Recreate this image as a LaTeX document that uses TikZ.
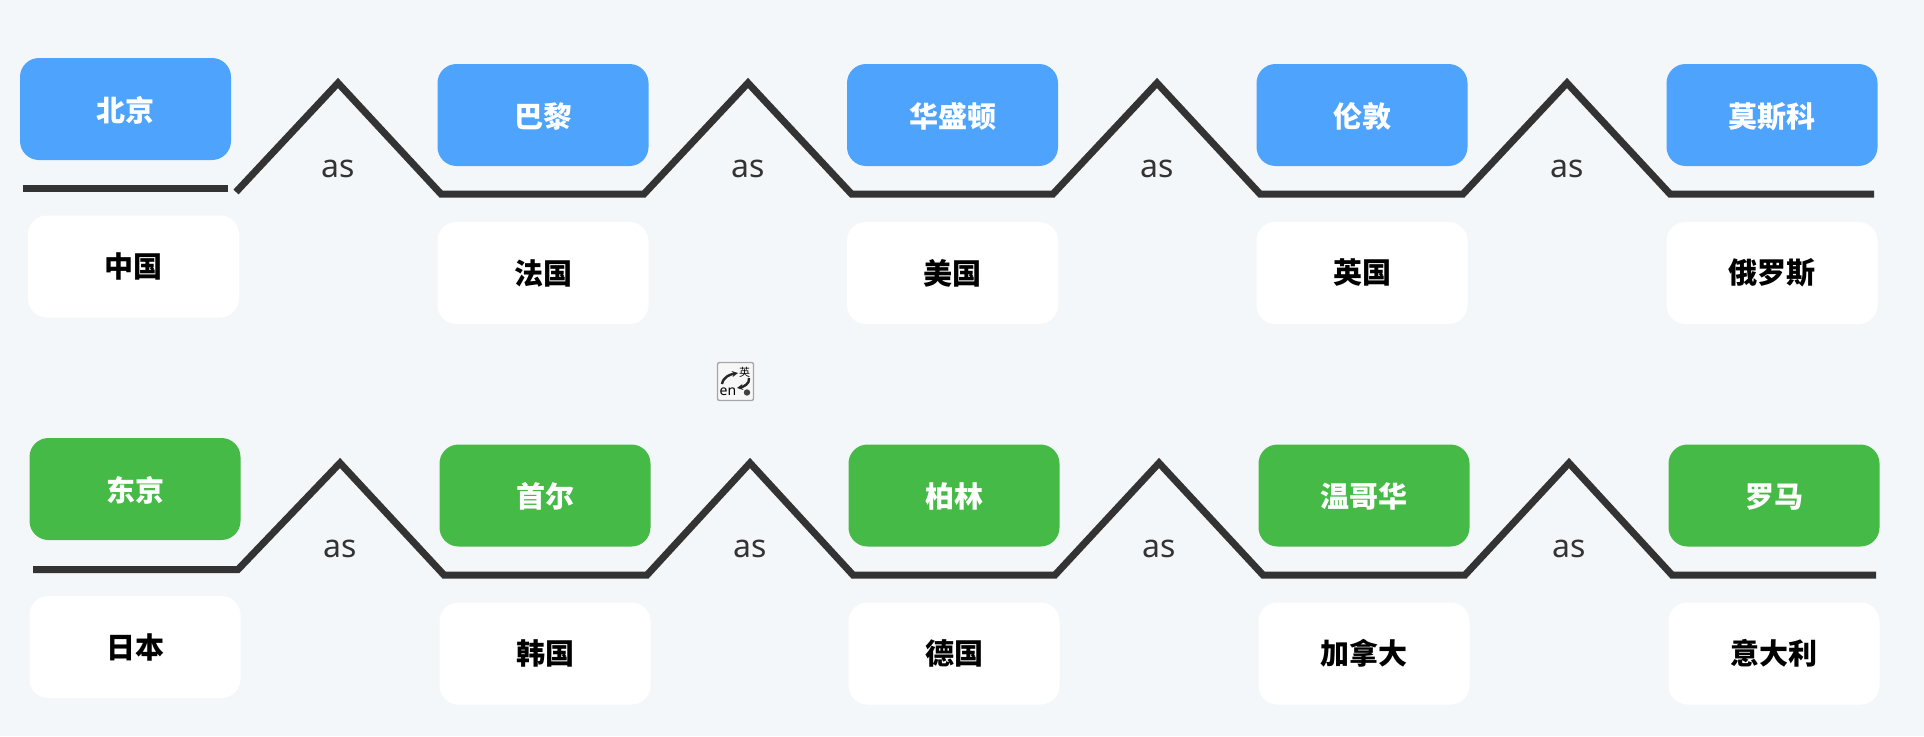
\documentclass[tikz,border=0pt]{standalone}
\usepackage{fontspec}
\setmainfont{Noto Sans CJK SC}
\newfontfamily\latinf{Noto Sans}
\usetikzlibrary{arrows.meta}
\definecolor{pagebg}{HTML}{F4F7FA}
\definecolor{bluebox}{HTML}{4EA3FD}
\definecolor{greenbox}{HTML}{46BA46}
\definecolor{inkline}{HTML}{333333}
\tikzset{
  card/.style={rectangle,rounded corners=19pt,minimum width=211pt,minimum height=102pt,inner sep=0pt,font=\fontsize{29}{30}\selectfont\bfseries},
  capital/.style={card,text=white,text height=28pt,text depth=3.5pt},
  bluecap/.style={capital,fill=bluebox},
  greencap/.style={capital,fill=greenbox},
  country/.style={card,fill=white,text=black},
  wave/.style={draw=inkline,line width=7pt,line join=miter},
  aslabel/.style={inner sep=0pt,text=inkline,font=\latinf\fontsize{32}{33}\selectfont},
  tile/.style={rectangle,rounded corners=2pt,draw=black!35,line width=1.4pt,fill=black!3,minimum width=36pt,minimum height=38pt,inner sep=0pt},
  imearrow/.style={draw=black!85,line width=2.4pt,-{Stealth[length=6pt,width=6pt]}},
}
\begin{document}
\begin{tikzpicture}[x=1pt,y=-1pt]
\fill[pagebg] (0,0) rectangle (1924,736);
\useasboundingbox (0,0) rectangle (1924,736);
% row 1 cards
\node[bluecap] (cap1) at (125.5,109) {北京};
\node[bluecap] (cap2) at (543,115) {巴黎};
\node[bluecap] (cap3) at (952.5,115) {华盛顿};
\node[bluecap] (cap4) at (1362,115) {伦敦};
\node[bluecap] (cap5) at (1772,115) {莫斯科};
\node[country] (cty1) at (133.5,266.5) {中国};
\node[country] (cty2) at (543,273) {法国};
\node[country] (cty3) at (952.5,273) {美国};
\node[country] (cty4) at (1362,273) {英国};
\node[country] (cty5) at (1772,273) {俄罗斯};
% row 2 cards
\node[greencap] (cap6) at (135,489) {东京};
\node[greencap] (cap7) at (545,495.5) {首尔};
\node[greencap] (cap8) at (954,495.5) {柏林};
\node[greencap] (cap9) at (1364,495.5) {温哥华};
\node[greencap] (cap10) at (1774,495.5) {罗马};
\node[country] (cty6) at (135,647) {日本};
\node[country] (cty7) at (545,653.5) {韩国};
\node[country] (cty8) at (954,653.5) {德国};
\node[country] (cty9) at (1364,653.5) {加拿大};
\node[country] (cty10) at (1774,653.5) {意大利};
% row 1 line
\coordinate (a0) at (23,188.7);
\coordinate (a1) at (228,188.7);
\coordinate (b0) at (236,192);
\coordinate (p1) at (338,83);
\coordinate (c1) at (441,194);
\coordinate (d1) at (644,194);
\coordinate (p2) at (748,83);
\coordinate (c2) at (851.5,194);
\coordinate (d2) at (1053,194);
\coordinate (p3) at (1157,83);
\coordinate (c3) at (1260,194);
\coordinate (d3) at (1463,194);
\coordinate (p4) at (1567,83);
\coordinate (c4) at (1670,194);
\coordinate (d4) at (1874,194);
\path[wave] (a0) -- (a1);
\path[wave] (b0) -- (p1) -- (c1) -- (d1) -- (p2) -- (c2) -- (d2) -- (p3) -- (c3) -- (d3) -- (p4) -- (c4) -- (d4);
% row 2 line
\coordinate (e0) at (33,569.5);
\coordinate (e1) at (238,569.5);
\coordinate (q1) at (340,463);
\coordinate (f1) at (444,575);
\coordinate (g1) at (647,575);
\coordinate (q2) at (750,463);
\coordinate (f2) at (853,575);
\coordinate (g2) at (1055,575);
\coordinate (q3) at (1159,463);
\coordinate (f3) at (1263,575);
\coordinate (g3) at (1465,575);
\coordinate (q4) at (1569,463);
\coordinate (f4) at (1672,575);
\coordinate (g4) at (1876,575);
\path[wave] (e0) -- (e1) -- (q1) -- (f1) -- (g1) -- (q2) -- (f2) -- (g2) -- (q3) -- (f3) -- (g3) -- (q4) -- (f4) -- (g4);
% as labels
\node[aslabel] (as1) at (338.5,169) {as};
\node[aslabel] (as2) at (748.5,169) {as};
\node[aslabel] (as3) at (1157.5,169) {as};
\node[aslabel] (as4) at (1567.5,169) {as};
\node[aslabel] (as5) at (340.5,549) {as};
\node[aslabel] (as6) at (750.5,549) {as};
\node[aslabel] (as7) at (1159.5,549) {as};
\node[aslabel] (as8) at (1569.5,549) {as};
% input-method icon
\node[tile] (ime) at (735.5,381.5) {};
\node[inner sep=0pt,font=\fontsize{11}{11}\selectfont,text=black] (imezh) at (744.5,372) {英};
\node[inner sep=0pt,font=\latinf\fontsize{14}{14}\selectfont,text=black] (imeen) at (728,392) {en};
\fill[black!75] (747,392.5) circle (3.2pt);
\coordinate (arr1a) at (722,384);
\coordinate (arr1b) at (738,373);
\coordinate (arr2a) at (749,378);
\coordinate (arr2b) at (737,388);
\draw[imearrow] (arr1a) to[out=80,in=190] (arr1b);
\draw[imearrow] (arr2a) to[out=-80,in=10] (arr2b);
\end{tikzpicture}
\end{document}
